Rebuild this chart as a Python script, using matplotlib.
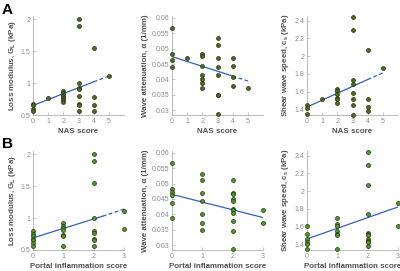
import matplotlib.pyplot as plt
import numpy as np

plt.rcParams['font.family'] = ['Liberation Sans', 'DejaVu Sans']

# NAS score (row A)
nas_x = [0, 0, 0, 0, 1, 2, 2, 2, 2, 2, 2, 2, 3, 3, 3, 3, 3, 3, 3, 3, 3, 4, 4, 4, 4, 5]
nas_gl = [0.68, 0.66, 0.60, 0.57, 0.76, 0.87, 0.85, 0.82, 0.79, 0.76, 0.73, 0.71,
          2.01, 1.89, 1.00, 0.93, 0.91, 0.80, 0.68, 0.66, 0.56, 1.55, 0.78, 0.66, 0.56, 1.11]
nas_x2 = [0, 0, 0, 0, 1, 2, 2, 2, 2, 2, 2, 2, 3, 3, 3, 3, 3, 3, 3, 3, 4, 4, 4, 4, 5]
nas_alpha = [0.0567, 0.0481, 0.0464, 0.0439, 0.0470, 0.0481, 0.0475, 0.0443, 0.0416, 0.0401,
             0.0390, 0.0372, 0.0534, 0.0512, 0.0470, 0.0440, 0.0416, 0.0351, 0.0349, 0.0289,
             0.0470, 0.0445, 0.0407, 0.0380, 0.0374]
nas_x3 = [0, 0, 0, 1, 2, 2, 2, 2, 2, 2, 3, 3, 3, 3, 3, 3, 3, 3, 4, 4, 4, 4, 5]
nas_cs = [1.45, 1.41, 1.35, 1.51, 1.63, 1.605, 1.575, 1.53, 1.51, 1.475,
          2.44, 2.29, 1.735, 1.69, 1.58, 1.51, 1.45, 1.34, 2.07, 1.51, 1.43, 1.38, 1.86]

# Portal inflammation score (row B)
pi_x = [0, 0, 0, 0, 0, 0, 0, 1, 1, 1, 1, 1, 1, 1, 2, 2, 2, 2, 2, 2, 2, 2, 2, 3, 3]
pi_gl = [0.79, 0.75, 0.72, 0.68, 0.66, 0.61, 0.57, 0.92, 0.88, 0.85, 0.81, 0.74, 0.72, 0.57,
         2.01, 1.89, 1.55, 1.00, 0.79, 0.77, 0.68, 0.66, 0.56, 1.11, 0.83]
pi_x2 = [0, 0, 0, 0, 0, 0, 1, 1, 1, 1, 1, 1, 1, 2, 2, 2, 2, 2, 2, 2, 2, 2, 2, 2, 3, 3]
pi_alpha = [0.0567, 0.0481, 0.0472, 0.0463, 0.0437, 0.0390, 0.0532, 0.0512, 0.0470, 0.0443,
            0.0401, 0.0372, 0.0350, 0.0512, 0.0470, 0.0466, 0.0450, 0.0445, 0.0417, 0.0413,
            0.0405, 0.0380, 0.0348, 0.0288, 0.0415, 0.0373]
pi_x3 = [0, 0, 0, 0, 0, 0, 1, 1, 1, 1, 1, 1, 1, 2, 2, 2, 2, 2, 2, 2, 2, 2, 2, 2, 3, 3]
pi_cs = [1.60, 1.52, 1.46, 1.43, 1.40, 1.35, 1.70, 1.63, 1.60, 1.55, 1.52, 1.50, 1.35,
         2.44, 2.29, 2.07, 1.74, 1.53, 1.51, 1.50, 1.46, 1.44, 1.42, 1.38, 1.86, 1.60]

# fit lines: x values, y values (solid part then dashed part)
fit_a = [([0, 4, 5], [0.65, 1.02, 1.11]),
         ([0, 4, 5], [0.0474, 0.0411, 0.0395]),
         ([0, 4, 5], [1.425, 1.735, 1.81])]
fit_b = [([0, 2.3, 3], [0.69, 1.03, 1.14]),
         ([0, 3, 3], [0.0465, 0.0390, 0.0390]),
         ([0, 3, 3], [1.46, 1.82, 1.82])]

ylabels = ['Loss modulus, G$_\\mathregular{L}$ (kPa)', 'Wave attenuation, \u03b1 (1/mm)',
           'Shear wave speed, c$_\\mathregular{s}$ (kPa)']
ylims = [(0.5, 2.05), (0.0285, 0.0605), (1.335, 2.45)]
yticks = [[0.5, 1, 1.5, 2], [0.03, 0.035, 0.04, 0.045, 0.05, 0.055, 0.06],
          [1.4, 1.6, 1.8, 2.0, 2.2, 2.4]]
yticklabels = [['0.5', '1', '1.5', '2'],
               ['0.03', '0.035', '0.04', '0.045', '0.05', '0.055', '0.06'],
               ['1.4', '1.6', '1.8', '2', '2.2', '2.4']]

fig = plt.figure(figsize=(4, 2.71), dpi=100)
lefts = [0.0825, 0.43, 0.7675]
rows = [
    (0.5756, [(nas_x, nas_gl), (nas_x2, nas_alpha), (nas_x3, nas_cs)], fit_a,
     'NAS score', (0, 6), [0, 1, 2, 3, 4, 5], '#4f6a1e'),
    (0.0775, [(pi_x, pi_gl), (pi_x2, pi_alpha), (pi_x3, pi_cs)], fit_b,
     'Portal inflammation score', (0, 3), [0, 1, 2, 3], '#4e9a24'),
]
gray = '#8c8c8c'
for bottom, data, fits, xlab, xlim, xt, col in rows:
    for i in range(3):
        ax = fig.add_axes([lefts[i], bottom, 0.2275, 0.365])
        x, y = data[i]
        fx, fy = fits[i]
        ax.plot(fx[:2], fy[:2], '-', color='#3060c0', lw=0.9, zorder=2)
        ax.plot(fx[1:], fy[1:], '--', color='#3060c0', lw=0.9, dashes=(3, 2), zorder=2)
        ax.scatter(x, y, s=8, c=col, edgecolors='#263010', linewidths=0.5, zorder=3,
                   clip_on=False)
        ax.set_xlim(*xlim)
        ax.set_ylim(*ylims[i])
        ax.set_xticks(xt)
        ax.set_yticks(yticks[i])
        ax.set_yticklabels(yticklabels[i])
        ax.spines['top'].set_visible(False)
        ax.spines['right'].set_visible(False)
        for s in ['left', 'bottom']:
            ax.spines[s].set_color('#b0b0b0')
            ax.spines[s].set_linewidth(0.6)
        ax.tick_params(direction='in', length=2, width=0.5, colors='#b0b0b0',
                       labelcolor=gray, labelsize=5, pad=2)
        ax.set_xlabel(xlab, fontsize=5.7, color='#505050', fontweight='bold', labelpad=2)
        ax.set_ylabel(ylabels[i], fontsize=5.7, color='#505050', fontweight='bold', labelpad=2)

fig.text(0.005, 0.99, 'A', fontsize=11, fontweight='bold', va='top', ha='left')
fig.text(0.005, 0.495, 'B', fontsize=11, fontweight='bold', va='top', ha='left')

fig.savefig('out.png', dpi=100)
